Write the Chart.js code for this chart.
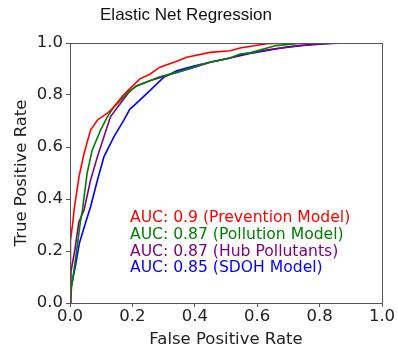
<!DOCTYPE html>
<html>
<head>
<meta charset="utf-8">
<script src="https://cdn.jsdelivr.net/npm/chart.js@4"></script>
<style>
  html, body { margin: 0; padding: 0; background: #fff; }
  #wrap { width: 398px; height: 353px; }
</style>
</head>
<body>
<div id="wrap"><canvas id="chart" width="398" height="353"></canvas></div>
<script>
// ROC curves (false positive rate / true positive rate)
const redFpr = [0, 0, 0.003, 0.01, 0.013, 0.029, 0.045, 0.066, 0.088, 0.12, 0.141, 0.171, 0.184, 0.224, 0.256, 0.288, 0.342, 0.374, 0.449, 0.513, 0.545, 0.63, 0.70, 1.0]
const redTpr = [0, 0.15, 0.24, 0.32, 0.358, 0.486, 0.575, 0.665, 0.704, 0.73, 0.755, 0.80, 0.815, 0.862, 0.88, 0.907, 0.93, 0.945, 0.964, 0.97, 0.981, 0.997, 1.0, 1.0]

const greenFpr = [0, 0.005, 0.019, 0.033, 0.04, 0.055, 0.071, 0.098, 0.12, 0.141, 0.15, 0.184, 0.213, 0.256, 0.288, 0.342, 0.417, 0.449, 0.513, 0.545, 0.577, 0.66, 0.75, 1.0]
const greenTpr = [0, 0.06, 0.18, 0.31, 0.358, 0.50, 0.588, 0.665, 0.717, 0.755, 0.765, 0.807, 0.835, 0.855, 0.87, 0.887, 0.915, 0.926, 0.942, 0.958, 0.962, 0.99, 1.0, 1.0]

const purpleFpr = [0, 0.003, 0.015, 0.028, 0.045, 0.066, 0.088, 0.109, 0.13, 0.162, 0.192, 0.213, 0.256, 0.342, 0.395, 0.449, 0.513, 0.545, 0.63, 0.70, 0.78, 0.88, 1.0]
const purpleTpr = [0, 0.12, 0.20, 0.31, 0.358, 0.473, 0.563, 0.64, 0.717, 0.768, 0.815, 0.835, 0.855, 0.887, 0.905, 0.926, 0.942, 0.955, 0.973, 0.985, 0.995, 1.0, 1.0]

const blueFpr = [0, 0.004, 0.017, 0.03, 0.05, 0.066, 0.088, 0.109, 0.141, 0.173, 0.192, 0.21, 0.256, 0.30, 0.342, 0.40, 0.449, 0.513, 0.577, 0.673, 0.737, 0.85, 1.0]
const blueTpr = [0, 0.063, 0.14, 0.23, 0.31, 0.37, 0.473, 0.563, 0.64, 0.704, 0.746, 0.765, 0.817, 0.868, 0.893, 0.912, 0.926, 0.942, 0.96, 0.98, 0.99, 1.0, 1.0]

const legendLabels = ['AUC: 0.9 (Prevention Model)', 'AUC: 0.87 (Pollution Model)', 'AUC: 0.87 (Hub Pollutants)', 'AUC: 0.85 (SDOH Model)']
const colors = ['#ff0000', '#008000', '#800080', '#0000ff']

const toPoints = (xs, ys) => xs.map((x, i) => ({ x: x, y: ys[i] }))

const series = [
  toPoints(redFpr, redTpr),
  toPoints(greenFpr, greenTpr),
  toPoints(purpleFpr, purpleTpr),
  toPoints(blueFpr, blueTpr)
]

// frame, title and the AUC text block (matplotlib style)
const extras = {
  id: 'extras',
  afterDraw(chart) {
    const { ctx, chartArea } = chart
    ctx.save()
    ctx.strokeStyle = '#555'
    ctx.lineWidth = 1
    ctx.strokeRect(chartArea.left + 0.5, chartArea.top + 0.5, chartArea.right - chartArea.left, chartArea.bottom - chartArea.top)

    ctx.fillStyle = '#111'
    ctx.font = '17px "Liberation Sans", Arial, sans-serif'
    ctx.textAlign = 'center'
    ctx.textBaseline = 'middle'
    ctx.fillText('Elastic Net Regression', 186, 15)

    ctx.font = '15.6px "DejaVu Sans", sans-serif'
    ctx.textAlign = 'left'
    legendLabels.forEach((t, i) => {
      ctx.fillStyle = colors[i]
      ctx.fillText(t, chartArea.left + 60, chartArea.top + 175 + i * 16.8)
    })
    ctx.restore()
  }
}

const tickFont = { family: '"DejaVu Sans", sans-serif', size: 16.5 }

new Chart(document.getElementById('chart'), {
  type: 'scatter',
  data: {
    datasets: series.map((pts, i) => ({
      label: legendLabels[i],
      data: pts,
      showLine: true,
      borderColor: colors[i],
      borderWidth: 1.6,
      pointRadius: 0,
      fill: false,
      order: i
    }))
  },
  options: {
    responsive: false,
    animation: false,
    layout: { padding: { top: 43, right: 16, left: 0, bottom: 0 } },
    plugins: {
      legend: { display: false },
      tooltip: { enabled: false }
    },
    scales: {
      x: {
        type: 'linear',
        min: 0,
        max: 1,
        afterFit: s => { s.height = 50 },
        ticks: { stepSize: 0.2, color: '#222', font: tickFont, padding: 0, callback: v => v.toFixed(1) },
        grid: { drawOnChartArea: false, drawTicks: true, tickLength: 4, color: '#555' },
        border: { color: '#555' },
        title: { display: true, text: 'False Positive Rate', color: '#222', font: tickFont, padding: { top: 0, bottom: 3 } }
      },
      y: {
        type: 'linear',
        min: 0,
        max: 1,
        afterFit: s => { s.width = 70 },
        ticks: { stepSize: 0.2, color: '#222', font: tickFont, padding: 3, callback: v => v.toFixed(1) },
        grid: { drawOnChartArea: false, drawTicks: true, tickLength: 4, color: '#555' },
        border: { color: '#555' },
        title: { display: true, text: 'True Positive Rate', color: '#222', font: tickFont, padding: { top: 12, bottom: 0 } }
      }
    }
  },
  plugins: [extras]
})
</script>
</body>
</html>
